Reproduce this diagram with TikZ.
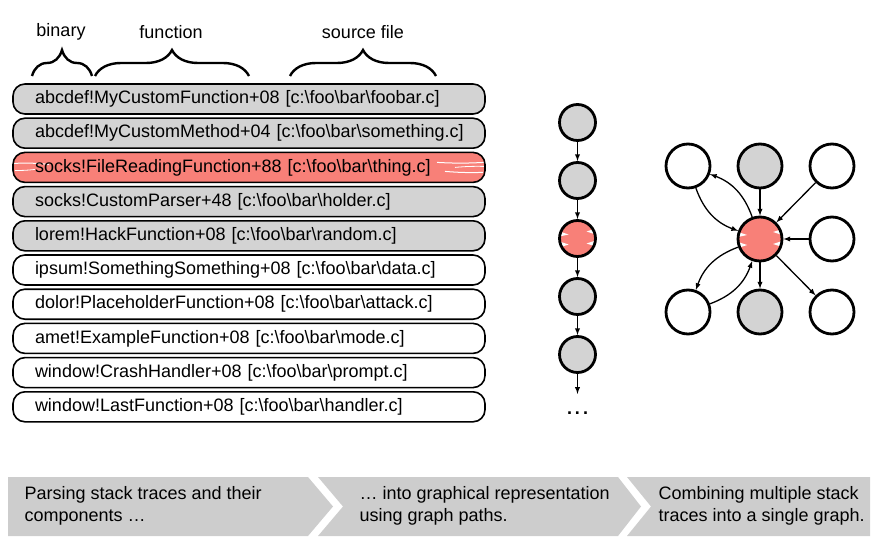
\documentclass[tikz,border=0pt]{standalone}
\usepackage{fontspec}
\setmainfont{Liberation Sans}
\usetikzlibrary{positioning,decorations.pathreplacing,arrows}
\definecolor{tracegray}{HTML}{D3D3D3}
\definecolor{hotred}{HTML}{F88078}
\definecolor{bannergray}{HTML}{CDCDCD}
\newcommand{\bs}{\textbackslash}

\tikzset{
  hdr/.style={font=\fontsize{18}{22}\selectfont},
  curly/.style={decorate, decoration={brace, amplitude=26pt}, line width=2.4pt},
  tracebox/.style={draw, rounded corners=12pt, line width=1.6pt, minimum height=30pt,
    text width=450pt, inner xsep=11pt, inner ysep=0pt, outer sep=0pt, align=left,
    execute at begin node={\hspace*{11pt}},
    font=\fontsize{18}{22}\selectfont},
  scribble/.style={fill=hotred, path picture={
      \draw[white, line width=1pt] ([xshift=1pt,yshift=4pt]path picture bounding box.west)
        to[bend left=4] ([xshift=36pt,yshift=3pt]path picture bounding box.west);
      \draw[white, line width=0.8pt] ([xshift=2pt,yshift=-3pt]path picture bounding box.west)
        to[bend right=4] ([xshift=22pt,yshift=-2pt]path picture bounding box.west);
      \draw[white, line width=1pt] ([xshift=-48pt,yshift=5pt]path picture bounding box.east)
        to[bend right=3] ([xshift=-1pt,yshift=5pt]path picture bounding box.east);
      \draw[white, line width=0.8pt] ([xshift=-30pt,yshift=0pt]path picture bounding box.east)
        to[bend left=3] ([xshift=-1pt,yshift=1pt]path picture bounding box.east);
      \draw[white, line width=1pt] ([xshift=-40pt,yshift=-4pt]path picture bounding box.east)
        to[bend right=3] ([xshift=-2pt,yshift=-5pt]path picture bounding box.east);
  }},
  chaindot/.style={circle, draw, line width=2.8pt, minimum size=36pt, inner sep=0pt},
  graphdot/.style={chaindot, minimum size=44pt},
  spiky/.style={fill=hotred, path picture={
      \fill[white] ([yshift=7pt]path picture bounding box.west) -- ([xshift=9pt,yshift=4pt]path picture bounding box.west)
        -- ([yshift=2pt]path picture bounding box.west) -- cycle;
      \fill[white] ([yshift=-3pt]path picture bounding box.west) -- ([xshift=9pt,yshift=-6pt]path picture bounding box.west)
        -- ([yshift=-9pt]path picture bounding box.west) -- cycle;
      \fill[white] ([yshift=10pt]path picture bounding box.east) -- ([xshift=-9pt,yshift=7pt]path picture bounding box.east)
        -- ([yshift=4pt]path picture bounding box.east) -- cycle;
      \fill[white] ([yshift=-2pt]path picture bounding box.east) -- ([xshift=-9pt,yshift=-5pt]path picture bounding box.east)
        -- ([yshift=-8pt]path picture bounding box.east) -- cycle;
  }},
  flow/.style={->, line width=1.3pt},
  stagetext/.style={anchor=west, align=left, font=\fontsize{18}{22}\selectfont}
}

\begin{document}
\begin{tikzpicture}[x=1pt, y=-1pt, >=latex, node distance=4.2pt]
\useasboundingbox (0,0) rectangle (891,556);

% column labels
\node[hdr] (binary) at (61,32) {binary};
\node[hdr] (func) at (171,32) {function};
\node[hdr] (src) at (363,32) {source file};
\draw[curly] (32,76) -- (92,76);
\draw[curly] (95,76) -- (249,76);
\draw[curly] (290,76) -- (436,76);

% the stack trace
\node[tracebox, fill=tracegray] (t1) at (249,99) {abcdef!MyCustomFunction+08 [c:\bs foo\bs bar\bs foobar.c]};
\node[tracebox, fill=tracegray, below=of t1] (t2) {abcdef!MyCustomMethod+04 [c:\bs foo\bs bar\bs something.c]};
\node[tracebox, scribble, below=of t2] (t3) {socks!FileReadingFunction+88 [c:\bs foo\bs bar\bs thing.c]};
\node[tracebox, fill=tracegray, below=of t3] (t4) {socks!CustomParser+48 [c:\bs foo\bs bar\bs holder.c]};
\node[tracebox, fill=tracegray, below=of t4] (t5) {lorem!HackFunction+08 [c:\bs foo\bs bar\bs random.c]};
\node[tracebox, below=of t5] (t6) {ipsum!SomethingSomething+08 [c:\bs foo\bs bar\bs data.c]};
\node[tracebox, below=of t6] (t7) {dolor!PlaceholderFunction+08 [c:\bs foo\bs bar\bs attack.c]};
\node[tracebox, below=of t7] (t8) {amet!ExampleFunction+08 [c:\bs foo\bs bar\bs mode.c]};
\node[tracebox, below=of t8] (t9) {window!CrashHandler+08 [c:\bs foo\bs bar\bs prompt.c]};
\node[tracebox, below=of t9] (t10) {window!LastFunction+08 [c:\bs foo\bs bar\bs handler.c]};

% path of the trace
\node[chaindot, fill=tracegray] (c1) at (577.5,122.5) {};
\node[chaindot, fill=tracegray, below=19.2pt of c1] (c2) {};
\node[chaindot, spiky, below=19.2pt of c2] (c3) {};
\node[chaindot, fill=tracegray, below=19.2pt of c3] (c4) {};
\node[chaindot, fill=tracegray, below=19.2pt of c4] (c5) {};
\coordinate[below=20pt of c5] (cend);
\node[font=\bfseries\fontsize{18}{22}\selectfont] (more) at (577.5,413) {.\,.\,.};
\draw[flow] (c1) -- (c2);
\draw[flow] (c2) -- (c3);
\draw[flow] (c3) -- (c4);
\draw[flow] (c4) -- (c5);
\draw[flow] (c5) -- (cend);

% merged graph
\node[graphdot] (g1) at (688,166) {};
\node[graphdot, fill=tracegray, right=25.2pt of g1] (g2) {};
\node[graphdot, right=25.2pt of g2] (g3) {};
\node[graphdot, spiky, below=26.2pt of g2] (hub) {};
\node[graphdot, right=25.2pt of hub] (g4) {};
\node[graphdot, fill=tracegray, below=26.2pt of hub] (g6) {};
\node[graphdot, left=25.2pt of g6] (g5) {};
\node[graphdot, right=25.2pt of g6] (g7) {};
\draw[flow] (g1) to[bend right=25] (hub);
\draw[flow] (hub) to[bend right=25] (g1);
\draw[flow] (g2) -- (hub);
\draw[flow] (g3) -- (hub);
\draw[flow] (g4) -- (hub);
\draw[flow] (hub) to[bend right=25] (g5);
\draw[flow] (g5) to[bend right=25] (hub);
\draw[flow] (hub) -- (g6);
\draw[flow] (hub) -- (g7);

% steps banner
\fill[bannergray] (8,477) -- (308,477) -- (333,506.5) -- (308,536) -- (8,536) -- cycle;
\fill[bannergray] (318,477) -- (618,477) -- (641,506.5) -- (618,536) -- (318,536) -- (343,506.5) -- cycle;
\fill[bannergray] (627,477) -- (870,477) -- (870,536) -- (627,536) -- (651,506.5) -- cycle;
\node[stagetext] (s1) at (21,506) {Parsing stack traces and their\\components \dots};
\node[stagetext] (s2) at (356,506) {\dots\ into graphical representation\\using graph paths.};
\node[stagetext] (s3) at (655,506) {Combining multiple stack\\traces into a single graph.};
\end{tikzpicture}
\end{document}
